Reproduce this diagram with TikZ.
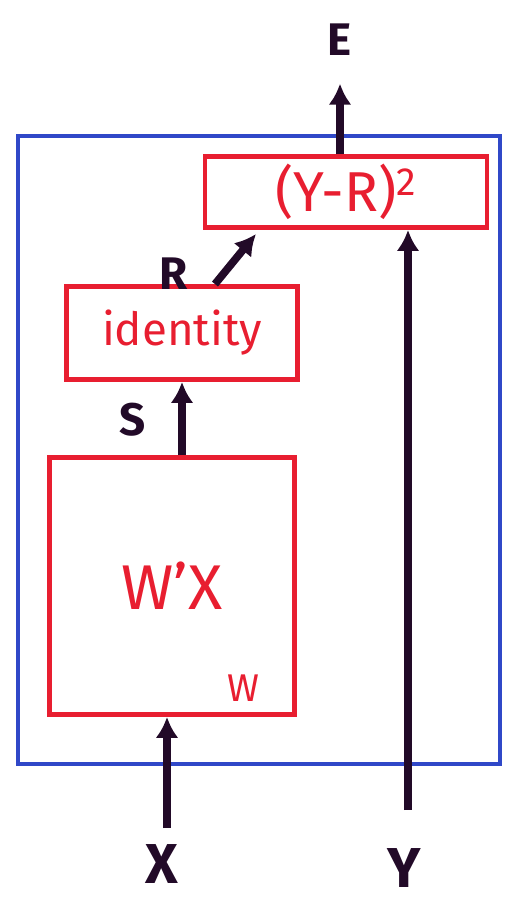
\documentclass[tikz,border=0pt]{standalone}
\usepackage{fontspec}
\setmainfont{Fira Sans}
\usetikzlibrary{arrows.meta}

\definecolor{penred}{RGB}{232,30,48}
\definecolor{penblue}{RGB}{48,72,200}
\definecolor{penink}{RGB}{34,10,40}

\tikzset{
  redbox/.style={draw=penred, line width=2.8pt, rectangle, text=penred, inner sep=0pt},
  flow/.style={line width=4.4pt, penink, -{Latex[length=0.42cm,width=0.46cm]}},
  varlabel/.style={text=penink, font=\bfseries\fontsize{26}{28}\selectfont, inner sep=0pt}
}

\begin{document}
\begin{tikzpicture}[x=0.02cm,y=-0.02cm]
	%%%%% START %%%%%
	\useasboundingbox (0,0) rectangle (509,900);
	
	% outer frame
	\draw[penblue, line width=2.2pt] (18,136) rectangle (500,764);
	
	% boxes
	\node[redbox, minimum width=5.64cm, minimum height=1.42cm, font=\fontsize{32}{34}\selectfont] (sq) at (346,192) {(Y-R)\textsuperscript{2}};
	\node[redbox, minimum width=4.62cm, minimum height=1.86cm, font=\fontsize{26}{28}\selectfont] (id) at (182,333) {identity};
	\node[redbox, minimum width=4.9cm, minimum height=5.14cm, font=\fontsize{36}{38}\selectfont] (wx) at (172,586) {W’X};
	\node[text=penred, font=\fontsize{22}{24}\selectfont] (w) at (243,688) {W};
	
	% labels
	\node[varlabel] (e) at (340,40) {E};
	\node[varlabel] (r) at (174,274) {R};
	\node[varlabel] (s) at (133,420) {S};
	\node[varlabel, font=\bfseries\fontsize{32}{34}\selectfont] (x) at (162,864) {X};
	\node[varlabel, font=\bfseries\fontsize{32}{34}\selectfont] (y) at (404,868) {Y};
	
	% inputs
	\coordinate (xin) at (167,828);
	\coordinate (yin) at (408,810);
	
	% arrows
	\draw[flow] (xin) -- (xin |- wx.south);
	\draw[flow] (yin) -- (yin |- sq.south);
	\draw[flow] (id.south |- wx.north) -- (id.south);
	\draw[flow] ([xshift=0.66cm]id.north) -- ([xshift=-1.8cm,yshift=-0.08cm]sq.south);
	\draw[flow, shorten >=0.55cm] (sq.north -| e) -- (e.south);
	%%%%% END %%%%%
\end{tikzpicture}
\end{document}
